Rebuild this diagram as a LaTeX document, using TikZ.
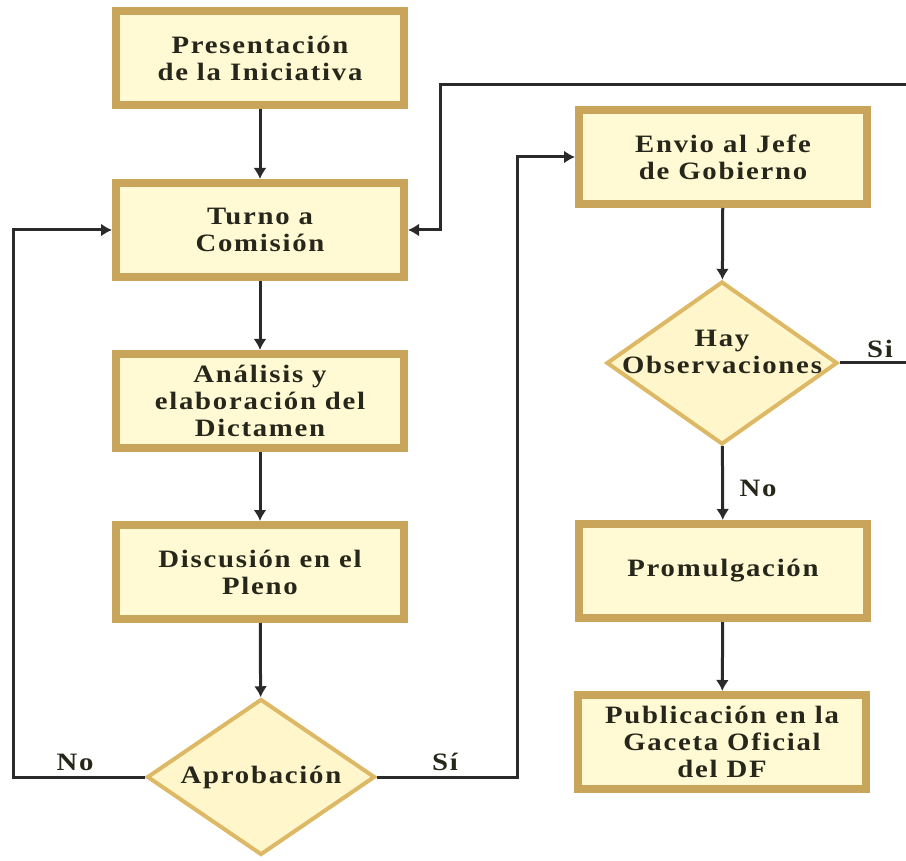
\documentclass[tikz,border=0pt]{standalone}
\usepackage{fontspec}
\setmainfont{Liberation Serif}
\newfontfamily\chartfont{Liberation Serif}[FakeStretch=1.15,LetterSpace=7]
\usetikzlibrary{shapes.geometric,arrows.meta}
\definecolor{boxborder}{HTML}{C9A55C}
\definecolor{boxfill}{HTML}{FFF9D4}
\definecolor{diaborder}{HTML}{DDB865}
\definecolor{diafill}{HTML}{FFF6CC}
\definecolor{txtcol}{HTML}{26261A}
\definecolor{linecol}{HTML}{2A2A2A}
\begin{document}
\begin{tikzpicture}[x=1pt,y=-1pt,
  chartfont/.style={font=\chartfont\bfseries\fontsize{25}{27}\selectfont, text=txtcol},
  stepbox/.style={chartfont, draw=boxborder, fill=boxfill, line width=8pt,
    minimum width=288pt, minimum height=94pt, align=center, inner sep=0pt},
  decision/.style={diamond, draw=diaborder, fill=diafill, line width=4pt, inner sep=0pt},
  dtext/.style={chartfont, align=center, inner sep=0pt},
  lbl/.style={chartfont, inner sep=0pt},
  conn/.style={draw=linecol, line width=3pt, -{Latex[length=11pt,width=13pt]}},
  plain/.style={draw=linecol, line width=3pt}]
\useasboundingbox (0,0) rectangle (906,861);
\clip (0,0) rectangle (906,861);
% left column
\node[stepbox] (p1) at (260,58) {Presentación\\de la Iniciativa};
\node[stepbox] (p2) at (260,230) {Turno a\\Comisión};
\node[stepbox] (p3) at (260,401) {Análisis y\\elaboración del\\Dictamen};
\node[stepbox] (p4) at (260,572) {Discusión en el\\Pleno};
\node[decision, minimum width=228pt, minimum height=156pt] (apro) at (261,777) {};
\node[dtext] (aprot) at (261,777) {Aprobación};
% right column
\node[stepbox] (envio) at (723,157) {Envio al Jefe\\de Gobierno};
\node[decision, minimum width=231pt, minimum height=163pt] (hay) at (722,363) {};
\node[dtext] (hayt) at (722,352) {Hay\\Observaciones};
\node[stepbox] (prom) at (723,571) {Promulgación};
\node[stepbox] (publ) at (722,742) {Publicación en la\\Gaceta Oficial\\del DF};
% helper coordinates
\coordinate (lloop) at (13,230);
\coordinate (rloop) at (517,157);
\coordinate (tr) at (912,85);
\coordinate (tl) at (440,85);
% connectors
\draw[conn] (p1) -- (p2);
\draw[conn] (p2) -- (p3);
\draw[conn] (p3) -- (p4);
\draw[conn] (p4) -- (apro);
\draw[conn] (envio) -- (hay);
\draw[conn] (hay) -- (prom);
\draw[conn] (prom) -- (publ);
\draw[conn] (apro.west) -| (lloop) -- (p2.west);
\draw[conn] (apro.east) -| (rloop) -- (envio.west);
\draw[conn] (hay.east) -| (tr) -- (tl) |- (p2.east);
% labels
\node[lbl] (lno) at (75,762) {No};
\node[lbl] (lsi) at (445,762) {Sí};
\node[lbl] (lsi2) at (880,349) {Si};
\node[lbl] (lno2) at (758,488) {No};
\end{tikzpicture}
\end{document}
